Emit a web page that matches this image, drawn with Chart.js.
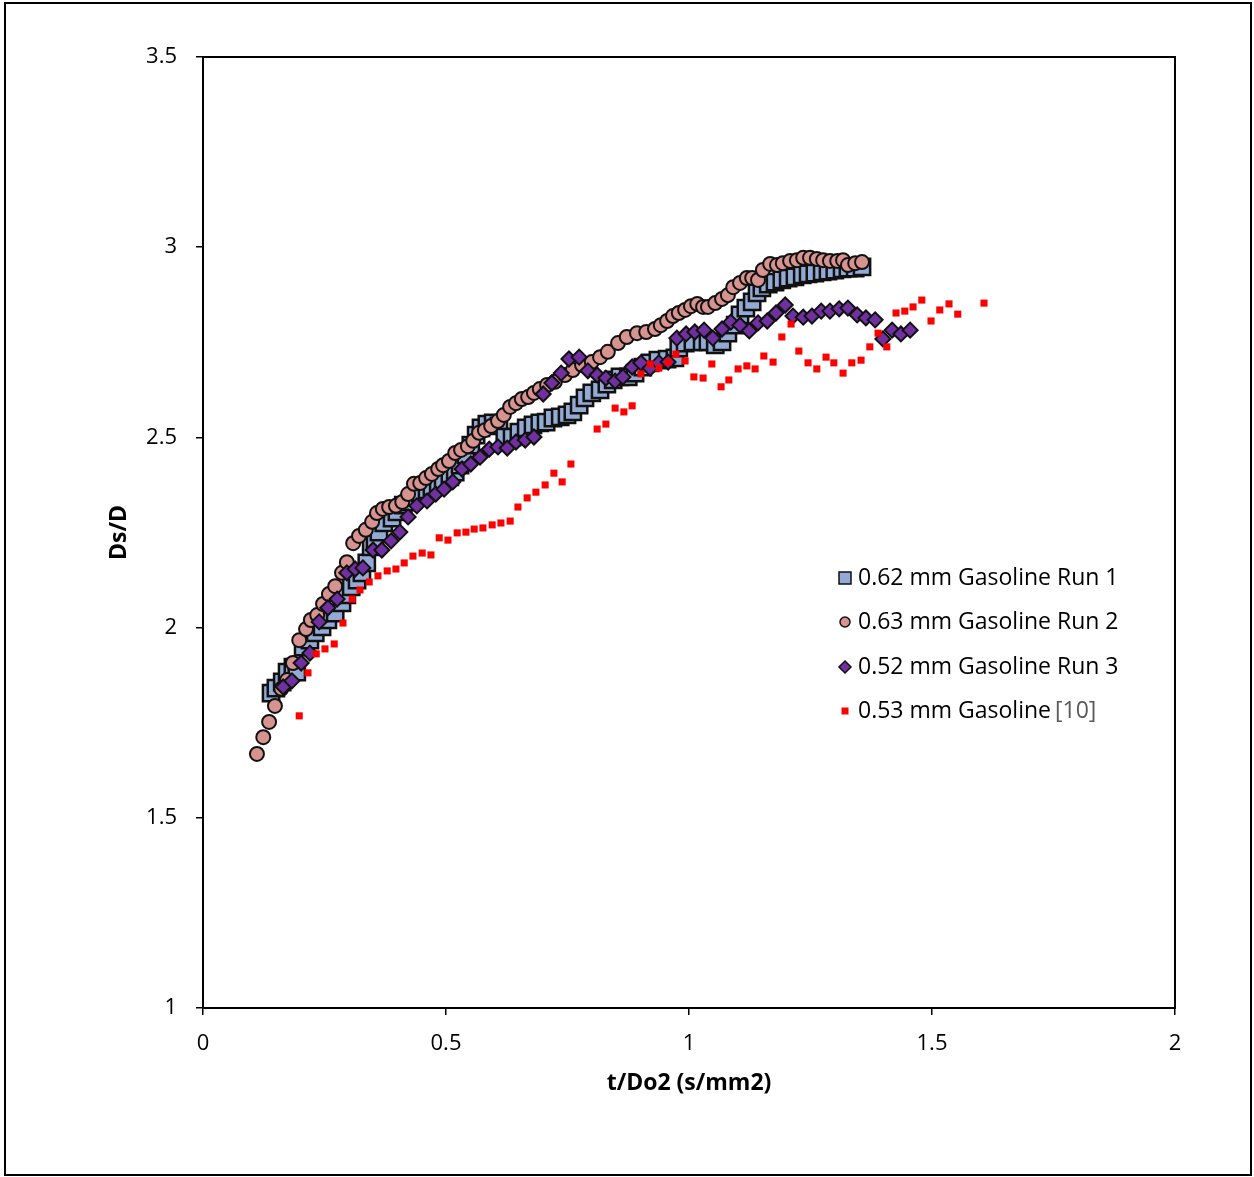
<!DOCTYPE html>
<html>
<head>
<meta charset="utf-8">
<script src="https://cdn.jsdelivr.net/npm/chart.js@4.4.1/dist/chart.umd.min.js"></script>
<style>
  body { margin: 0; background: #fff; }
  #wrap { position: relative; width: 1254px; height: 1177px; }
</style>
</head>
<body>
<div id="wrap"><canvas id="chart" width="1254" height="1177"></canvas></div>
<script>
// t/Do2 (s/mm2) and Ds/D
const run1T = [0.140, 0.150, 0.163, 0.173, 0.185, 0.193, 0.206, 0.220, 0.231, 0.245, 0.257, 0.272, 0.286, 0.296, 0.305, 0.317, 0.327, 0.337, 0.346, 0.354, 0.362, 0.372, 0.389, 0.399, 0.412, 0.426, 0.436, 0.447, 0.461, 0.471, 0.484, 0.494, 0.508, 0.519, 0.529, 0.541, 0.551, 0.562, 0.572, 0.584, 0.597, 0.609, 0.621, 0.636, 0.650, 0.665, 0.679, 0.693, 0.706, 0.720, 0.735, 0.749, 0.761, 0.774, 0.786, 0.800, 0.817, 0.831, 0.844, 0.858, 0.875, 0.889, 0.905, 0.920, 0.936, 0.955, 0.971, 0.979, 0.992, 1.008, 1.027, 1.039, 1.054, 1.068, 1.080, 1.095, 1.105, 1.117, 1.130, 1.140, 1.150, 1.163, 1.177, 1.191, 1.204, 1.218, 1.233, 1.245, 1.259, 1.274, 1.286, 1.300, 1.315, 1.327, 1.342, 1.356];
const run1D = [1.828, 1.841, 1.857, 1.883, 1.896, 1.883, 1.949, 1.967, 1.986, 2.002, 2.020, 2.038, 2.065, 2.086, 2.107, 2.125, 2.144, 2.170, 2.212, 2.230, 2.251, 2.275, 2.288, 2.304, 2.322, 2.330, 2.343, 2.354, 2.362, 2.370, 2.380, 2.388, 2.396, 2.409, 2.427, 2.454, 2.480, 2.506, 2.525, 2.535, 2.538, 2.530, 2.501, 2.501, 2.514, 2.525, 2.533, 2.538, 2.540, 2.551, 2.554, 2.559, 2.567, 2.585, 2.604, 2.617, 2.625, 2.640, 2.651, 2.659, 2.659, 2.669, 2.685, 2.696, 2.703, 2.706, 2.709, 2.735, 2.748, 2.751, 2.751, 2.751, 2.743, 2.751, 2.774, 2.795, 2.822, 2.840, 2.856, 2.880, 2.893, 2.903, 2.908, 2.914, 2.919, 2.922, 2.927, 2.930, 2.932, 2.935, 2.937, 2.940, 2.943, 2.945, 2.945, 2.948];

const run2T = [0.111, 0.124, 0.136, 0.148, 0.161, 0.173, 0.185, 0.198, 0.212, 0.222, 0.235, 0.247, 0.259, 0.272, 0.286, 0.296, 0.309, 0.321, 0.335, 0.348, 0.358, 0.370, 0.383, 0.397, 0.410, 0.422, 0.434, 0.447, 0.459, 0.471, 0.484, 0.494, 0.506, 0.519, 0.531, 0.545, 0.556, 0.568, 0.580, 0.593, 0.607, 0.619, 0.632, 0.644, 0.656, 0.669, 0.681, 0.693, 0.708, 0.724, 0.745, 0.761, 0.780, 0.800, 0.817, 0.833, 0.854, 0.872, 0.893, 0.912, 0.930, 0.942, 0.955, 0.967, 0.979, 0.992, 1.004, 1.017, 1.029, 1.039, 1.054, 1.068, 1.080, 1.091, 1.105, 1.119, 1.130, 1.142, 1.152, 1.167, 1.181, 1.193, 1.208, 1.222, 1.235, 1.249, 1.263, 1.276, 1.290, 1.305, 1.317, 1.327, 1.342, 1.356];
const run2D = [1.668, 1.712, 1.752, 1.794, 1.839, 1.862, 1.907, 1.967, 1.996, 2.020, 2.033, 2.062, 2.088, 2.109, 2.144, 2.172, 2.222, 2.241, 2.257, 2.278, 2.301, 2.312, 2.317, 2.320, 2.330, 2.351, 2.378, 2.380, 2.393, 2.404, 2.417, 2.427, 2.438, 2.459, 2.467, 2.477, 2.491, 2.512, 2.519, 2.530, 2.543, 2.559, 2.580, 2.590, 2.601, 2.606, 2.617, 2.627, 2.638, 2.646, 2.664, 2.677, 2.690, 2.698, 2.711, 2.725, 2.748, 2.764, 2.774, 2.777, 2.785, 2.795, 2.806, 2.819, 2.827, 2.835, 2.845, 2.851, 2.843, 2.843, 2.853, 2.864, 2.874, 2.895, 2.906, 2.919, 2.919, 2.914, 2.940, 2.956, 2.953, 2.958, 2.964, 2.966, 2.972, 2.972, 2.969, 2.966, 2.964, 2.964, 2.966, 2.953, 2.958, 2.961];

const run3T = [0.165, 0.183, 0.202, 0.220, 0.239, 0.257, 0.276, 0.296, 0.313, 0.329, 0.350, 0.368, 0.387, 0.405, 0.422, 0.440, 0.461, 0.479, 0.496, 0.514, 0.533, 0.551, 0.570, 0.589, 0.607, 0.626, 0.644, 0.663, 0.681, 0.700, 0.718, 0.737, 0.753, 0.774, 0.792, 0.811, 0.829, 0.848, 0.864, 0.883, 0.901, 0.920, 0.938, 0.957, 0.975, 0.994, 1.012, 1.031, 1.049, 1.068, 1.086, 1.105, 1.124, 1.142, 1.161, 1.179, 1.198, 1.214, 1.235, 1.253, 1.272, 1.290, 1.309, 1.327, 1.346, 1.364, 1.383, 1.399, 1.418, 1.436, 1.455];
const run3D = [1.844, 1.860, 1.907, 1.933, 2.015, 2.052, 2.075, 2.144, 2.154, 2.157, 2.204, 2.204, 2.228, 2.251, 2.291, 2.320, 2.333, 2.351, 2.364, 2.383, 2.417, 2.430, 2.448, 2.469, 2.475, 2.472, 2.488, 2.493, 2.501, 2.614, 2.643, 2.669, 2.706, 2.711, 2.675, 2.664, 2.656, 2.648, 2.659, 2.685, 2.696, 2.682, 2.696, 2.698, 2.761, 2.772, 2.777, 2.782, 2.761, 2.785, 2.803, 2.795, 2.780, 2.801, 2.806, 2.827, 2.848, 2.819, 2.816, 2.819, 2.832, 2.832, 2.838, 2.840, 2.822, 2.814, 2.809, 2.759, 2.782, 2.772, 2.782];

const refT = [0.198, 0.216, 0.233, 0.251, 0.270, 0.288, 0.307, 0.323, 0.342, 0.360, 0.379, 0.397, 0.414, 0.432, 0.451, 0.469, 0.486, 0.504, 0.523, 0.541, 0.558, 0.576, 0.595, 0.613, 0.632, 0.648, 0.667, 0.685, 0.704, 0.722, 0.739, 0.757, 0.811, 0.829, 0.848, 0.866, 0.883, 0.901, 0.920, 0.938, 0.957, 0.973, 0.992, 1.010, 1.029, 1.047, 1.066, 1.082, 1.101, 1.119, 1.136, 1.154, 1.173, 1.191, 1.210, 1.226, 1.245, 1.263, 1.282, 1.298, 1.317, 1.335, 1.354, 1.372, 1.389, 1.407, 1.426, 1.444, 1.461, 1.479, 1.498, 1.516, 1.535, 1.553, 1.607];
const refD = [1.768, 1.881, 1.931, 1.944, 1.957, 2.012, 2.075, 2.099, 2.120, 2.136, 2.149, 2.154, 2.170, 2.188, 2.196, 2.191, 2.236, 2.230, 2.249, 2.251, 2.259, 2.262, 2.270, 2.275, 2.280, 2.317, 2.341, 2.356, 2.375, 2.406, 2.383, 2.430, 2.522, 2.535, 2.577, 2.567, 2.583, 2.667, 2.693, 2.682, 2.698, 2.719, 2.701, 2.659, 2.656, 2.693, 2.633, 2.651, 2.680, 2.688, 2.680, 2.714, 2.698, 2.764, 2.798, 2.727, 2.696, 2.680, 2.711, 2.696, 2.669, 2.696, 2.703, 2.738, 2.774, 2.738, 2.827, 2.832, 2.843, 2.861, 2.806, 2.835, 2.851, 2.824, 2.853];

const seriesNames = ['0.62 mm Gasoline Run 1', '0.63 mm Gasoline Run 2', '0.52 mm Gasoline Run 3', '0.53 mm Gasoline'];
const refTag = '[10]';
const xTicks = [0, 0.5, 1, 1.5, 2];
const xTickLabels = ['0', '0.5', '1', '1.5', '2'];
const yTicks = [1, 1.5, 2, 2.5, 3, 3.5];
const yTickLabels = ['1', '1.5', '2', '2.5', '3', '3.5'];

const FONT = "'Open Sans', sans-serif";

const toPoints = (xs, ys) => xs.map((x, i) => ({ x: x, y: ys[i] }));

const styles = [
    { pointStyle: 'rect', radius: 11.5, fill: '#93AAD5', border: '#111', bw: 2.5 },
    { pointStyle: 'circle', radius: 7, fill: '#D6938F', border: '#111', bw: 2 },
    { pointStyle: 'rectRot', radius: 7.5, fill: '#7030A0', border: '#111', bw: 2 },
    { pointStyle: 'rect', radius: 5, fill: '#FF0000', border: '#FF0000', bw: 0 }
];

const allData = [toPoints(run1T, run1D), toPoints(run2T, run2D), toPoints(run3T, run3D), toPoints(refT, refD)];

// excel stacking: first series at the bottom, reference data on top
const datasets = allData.map((d, i) => ({
    label: seriesNames[i],
    data: d,
    order: 4 - i,
    pointStyle: styles[i].pointStyle,
    pointRadius: styles[i].radius,
    pointBackgroundColor: styles[i].fill,
    pointBorderColor: styles[i].border,
    pointBorderWidth: styles[i].bw,
    showLine: false
}));

const framePlugin = {
    id: 'frame',
    beforeDraw(chart) {
        const c = chart.ctx;
        c.save();
        c.fillStyle = '#fff';
        c.fillRect(0, 0, chart.width, chart.height);
        c.restore();
    },
    afterDraw(chart) {
        const c = chart.ctx;
        const a = chart.chartArea;
        c.save();
        c.strokeStyle = '#000';
        c.lineWidth = 2;
        c.strokeRect(a.left, a.top, a.right - a.left, a.bottom - a.top);
        c.strokeRect(5, 3, 1246, 1172);

        // legend inside the plot
        const rows = [578, 622, 667, 711];
        const mx = 845, tx = 858;
        c.font = "23px " + FONT;
        c.textBaseline = 'middle';
        rows.forEach((y, i) => {
            const s = styles[i];
            c.fillStyle = s.fill;
            c.strokeStyle = s.border;
            c.lineWidth = s.bw ? 1.5 : 0;
            c.beginPath();
            if (i === 0) {
                c.rect(mx - 6, y - 6, 12, 12);
            } else if (i === 1) {
                c.arc(mx, y, 5, 0, Math.PI * 2);
            } else if (i === 2) {
                c.moveTo(mx, y - 6); c.lineTo(mx + 6, y); c.lineTo(mx, y + 6); c.lineTo(mx - 6, y); c.closePath();
            } else {
                c.rect(mx - 3.5, y - 3.5, 7, 7);
            }
            c.fill();
            if (s.bw) c.stroke();
            c.fillStyle = '#000';
            c.textAlign = 'left';
            c.fillText(seriesNames[i], tx, y);
            if (i === 3) {
                const w = c.measureText(seriesNames[i]).width;
                c.fillStyle = '#595959';
                c.fillText(refTag, tx + w + 4, y);
            }
        });
        c.restore();
    }
};

new Chart(document.getElementById('chart'), {
    type: 'scatter',
    data: { datasets: datasets },
    options: {
        responsive: false,
        animation: false,
        layout: { padding: { left: 0, top: 57, right: 79, bottom: 0 } },
        plugins: {
            legend: { display: false },
            tooltip: { enabled: false }
        },
        scales: {
            x: {
                type: 'linear',
                min: 0,
                max: 2,
                afterBuildTicks: (scale) => { scale.ticks = xTicks.map(v => ({ value: v })); },
                afterFit: (scale) => { scale.height = 169; },
                ticks: {
                    color: '#000',
                    padding: 16,
                    maxRotation: 0,
                    callback: (v, i) => xTickLabels[i],
                    font: { family: FONT, size: 22 }
                },
                grid: { drawOnChartArea: false, drawTicks: true, tickLength: 7, color: '#000', lineWidth: 1.5 },
                border: { color: '#000', width: 2 },
                title: {
                    display: true,
                    text: 't/Do2 (s/mm2)',
                    color: '#000',
                    padding: { top: 0, bottom: 80 },
                    font: { family: FONT, size: 23, weight: 'bold' }
                }
            },
            y: {
                type: 'linear',
                min: 1,
                max: 3.5,
                afterBuildTicks: (scale) => { scale.ticks = yTicks.map(v => ({ value: v })); },
                afterFit: (scale) => { scale.width = 203; },
                ticks: {
                    color: '#000',
                    padding: 19,
                    callback: (v, i) => yTickLabels[i],
                    font: { family: FONT, size: 22 }
                },
                grid: { drawOnChartArea: false, drawTicks: true, tickLength: 7, color: '#000', lineWidth: 1.5 },
                border: { color: '#000', width: 2 },
                title: {
                    display: true,
                    text: 'Ds/D',
                    color: '#000',
                    padding: { top: 106, bottom: 0 },
                    font: { family: FONT, size: 23, weight: 'bold' }
                }
            }
        }
    },
    plugins: [framePlugin]
});
</script>
</body>
</html>
